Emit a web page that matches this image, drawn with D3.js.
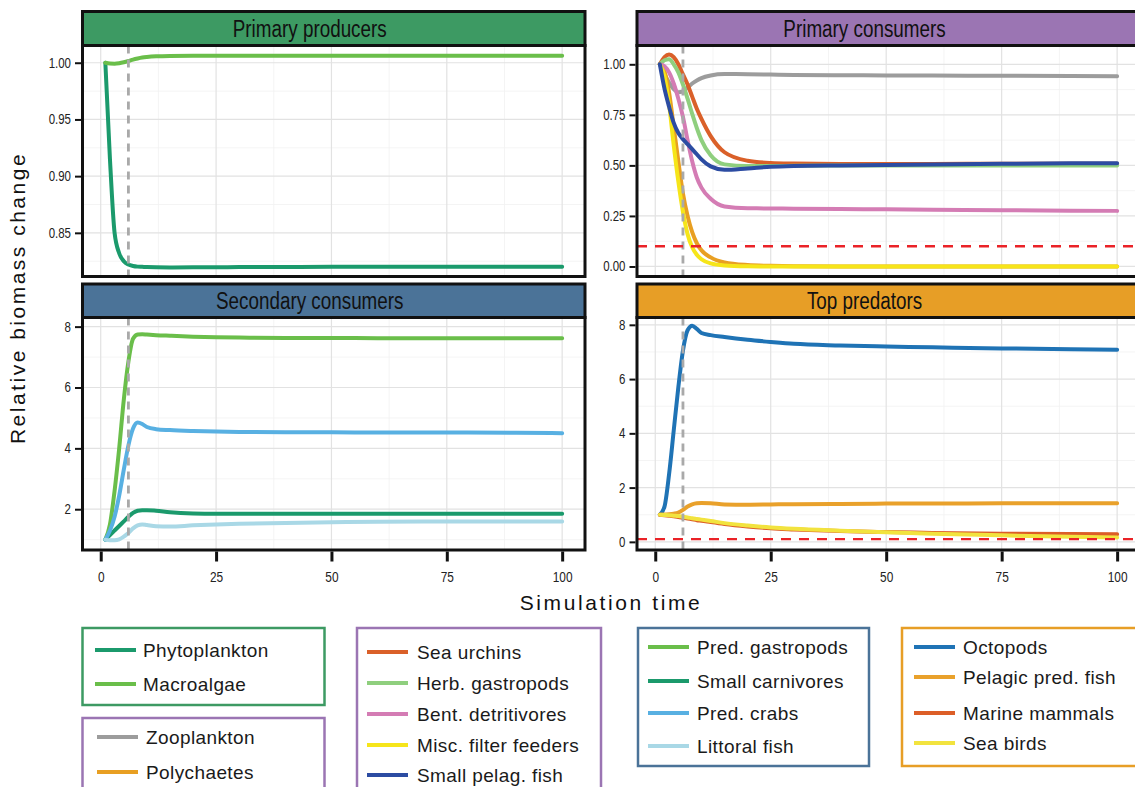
<!DOCTYPE html>
<html>
<head>
<meta charset="utf-8">
<script src="https://cdn.jsdelivr.net/npm/d3@7"></script>
<style>
  body { margin: 0; background: #fff; }
  svg { display: block; font-family: "Liberation Sans", Arial, sans-serif; }
</style>
</head>
<body>
<div id="container"></div>
<script>
// simulation time steps the curves were read at
var times = [1, 2, 3, 4, 5, 6, 7, 8, 9, 10, 12, 15, 20, 25, 30, 40, 50, 60, 75, 90, 100];

// primary producers
var phytoplankton = [1.0, 0.915, 0.85, 0.832, 0.825, 0.822, 0.8208, 0.8202, 0.82, 0.8198, 0.8196, 0.8195, 0.8196, 0.8197, 0.8198, 0.8199, 0.82, 0.82, 0.8201, 0.8202, 0.8202];
var macroalgae = [1.0, 0.9993, 0.9992, 0.9996, 1.0004, 1.0015, 1.0028, 1.0038, 1.0046, 1.0051, 1.0057, 1.006, 1.0061, 1.0061, 1.0061, 1.0061, 1.0061, 1.0061, 1.0061, 1.0061, 1.0061];

// primary consumers
var zooplankton = [1.0, 0.95, 0.91, 0.877, 0.862, 0.866, 0.885, 0.905, 0.92, 0.932, 0.945, 0.952, 0.951, 0.949, 0.947, 0.946, 0.945, 0.944, 0.943, 0.942, 0.941];
var polychaetes = [1.0, 0.965, 0.86, 0.69, 0.52, 0.36, 0.25, 0.17, 0.115, 0.08, 0.045, 0.02, 0.007, 0.003, 0.001, 0, 0, 0, 0, 0, 0];
var seaUrchins = [1.0, 1.035, 1.048, 1.035, 1.0, 0.95, 0.9, 0.84, 0.78, 0.73, 0.645, 0.565, 0.523, 0.512, 0.509, 0.507, 0.507, 0.507, 0.508, 0.508, 0.508];
var herbGastropods = [1.0, 1.02, 1.025, 1.0, 0.96, 0.9, 0.83, 0.755, 0.685, 0.625, 0.55, 0.505, 0.497, 0.497, 0.498, 0.499, 0.5, 0.5, 0.5, 0.5, 0.5];
var bentDetritivores = [1.0, 0.99, 0.96, 0.905, 0.83, 0.74, 0.625, 0.52, 0.44, 0.39, 0.335, 0.297, 0.288, 0.287, 0.286, 0.284, 0.283, 0.281, 0.278, 0.276, 0.275];
var miscFilterFeeders = [1.0, 0.94, 0.8, 0.6, 0.42, 0.27, 0.16, 0.095, 0.058, 0.036, 0.015, 0.005, 0.001, 0, 0, 0, 0, 0, 0, 0, 0];
var smallPelagFish = [1.0, 0.88, 0.79, 0.71, 0.66, 0.63, 0.605, 0.58, 0.555, 0.53, 0.495, 0.478, 0.485, 0.493, 0.497, 0.5, 0.502, 0.505, 0.508, 0.51, 0.511];

// secondary consumers
var predGastropods = [1.0, 1.5, 2.6, 4.0, 5.6, 6.85, 7.6, 7.74, 7.75, 7.74, 7.72, 7.7, 7.67, 7.65, 7.64, 7.63, 7.63, 7.62, 7.62, 7.62, 7.62];
var smallCarnivores = [1.0, 1.15, 1.3, 1.45, 1.6, 1.75, 1.88, 1.95, 1.97, 1.97, 1.95, 1.9, 1.86, 1.85, 1.85, 1.85, 1.85, 1.85, 1.85, 1.85, 1.85];
var predCrabs = [1.0, 1.3, 1.75, 2.45, 3.3, 4.1, 4.65, 4.85, 4.8, 4.7, 4.63, 4.6, 4.57, 4.55, 4.54, 4.53, 4.53, 4.52, 4.52, 4.51, 4.5];
var littoralFish = [1.0, 0.98, 0.98, 1.01, 1.1, 1.22, 1.37, 1.47, 1.5, 1.48, 1.44, 1.43, 1.47, 1.5, 1.52, 1.55, 1.57, 1.59, 1.6, 1.6, 1.6];

// top predators
var octopods = [1.0, 1.3, 2.5, 4.1, 5.7, 7.05, 7.8, 7.97, 7.85, 7.7, 7.62, 7.55, 7.45, 7.37, 7.3, 7.24, 7.2, 7.17, 7.13, 7.1, 7.08];
var pelagicPredFish = [1.0, 1.01, 1.02, 1.04, 1.08, 1.18, 1.3, 1.38, 1.42, 1.43, 1.42, 1.38, 1.37, 1.38, 1.39, 1.4, 1.41, 1.41, 1.42, 1.42, 1.42];
var marineMammals = [1.0, 0.98, 0.96, 0.94, 0.92, 0.89, 0.86, 0.83, 0.8, 0.78, 0.73, 0.66, 0.57, 0.5, 0.46, 0.4, 0.36, 0.33, 0.3, 0.29, 0.28];
var seaBirds = [1.0, 0.99, 0.98, 0.965, 0.95, 0.925, 0.9, 0.87, 0.845, 0.82, 0.77, 0.69, 0.6, 0.53, 0.48, 0.41, 0.35, 0.3, 0.24, 0.19, 0.16];

// groups, names and ticks
var groupTitles = ["Primary producers", "Primary consumers", "Secondary consumers", "Top predators"];
var producerNames = ["Phytoplankton", "Macroalgae"];
var primaryNames = ["Zooplankton", "Polychaetes", "Sea urchins", "Herb. gastropods", "Bent. detritivores", "Misc. filter feeders", "Small pelag. fish"];
var secondaryNames = ["Pred. gastropods", "Small carnivores", "Pred. crabs", "Littoral fish"];
var topNames = ["Octopods", "Pelagic pred. fish", "Marine mammals", "Sea birds"];
var xTicks = [0, 25, 50, 75, 100];
var producerTicks = [0.85, 0.90, 0.95, 1.00];
var primaryTicks = [0, 0.25, 0.5, 0.75, 1.0];
var secondaryTicks = [2, 4, 6, 8];
var topTicks = [0, 2, 4, 6, 8];
var disturbanceTime = 6;      // grey dashed line
var extinctionLevel = 0.1;    // red dashed line

var seriesValues = {
  "Phytoplankton": phytoplankton, "Macroalgae": macroalgae,
  "Zooplankton": zooplankton, "Polychaetes": polychaetes, "Sea urchins": seaUrchins,
  "Herb. gastropods": herbGastropods, "Bent. detritivores": bentDetritivores,
  "Misc. filter feeders": miscFilterFeeders, "Small pelag. fish": smallPelagFish,
  "Pred. gastropods": predGastropods, "Small carnivores": smallCarnivores,
  "Pred. crabs": predCrabs, "Littoral fish": littoralFish,
  "Octopods": octopods, "Pelagic pred. fish": pelagicPredFish,
  "Marine mammals": marineMammals, "Sea birds": seaBirds
};

var colors = {
  "Phytoplankton": "#1b9a6c", "Macroalgae": "#6abe4a",
  "Zooplankton": "#9c9c9c", "Polychaetes": "#e89f22", "Sea urchins": "#da6029",
  "Herb. gastropods": "#8fcf7e", "Bent. detritivores": "#d47cb4",
  "Misc. filter feeders": "#f6e51a", "Small pelag. fish": "#2c4ca2",
  "Pred. gastropods": "#6abe4a", "Small carnivores": "#1b9a6c",
  "Pred. crabs": "#58b0e2", "Littoral fish": "#a9d8e6",
  "Octopods": "#1f73b5", "Pelagic pred. fish": "#e9a12b",
  "Marine mammals": "#dc5e27", "Sea birds": "#f2e33e"
};
var stripColors = ["#3d9a63", "#9b75b3", "#4b7398", "#e79e26"];

var w = 1135, h = 787;
var svg = d3.select("div#container")
  .append("svg")
  .attr("width", w)
  .attr("height", h);

svg.append("rect").attr("width", w).attr("height", h).attr("fill", "#fff");

// panel layout
var cols = [[82.5, 585], [637, 1140]];
var rows = [{strip: 11.5, top: 45.5, bottom: 276.5}, {strip: 284, top: 317.5, bottom: 550}];
var narrow = 0.82;

var panels = [
  {title: groupTitles[0], names: producerNames, ticks: producerTicks, domain: [0.8115, 1.0152], fmt: d3.format(".2f"), col: 0, row: 0, red: false},
  {title: groupTitles[1], names: primaryNames, ticks: primaryTicks, domain: [-0.0496, 1.093], fmt: d3.format(".2f"), col: 1, row: 0, red: true},
  {title: groupTitles[2], names: secondaryNames, ticks: secondaryTicks, domain: [0.66, 8.3], fmt: d3.format("d"), col: 0, row: 1, red: false},
  {title: groupTitles[3], names: topNames, ticks: topTicks, domain: [-0.3, 8.27], fmt: d3.format("d"), col: 1, row: 1, red: true}
];

function minorOf(ticks) {
  var step = ticks[1] - ticks[0], out = [];
  for (var i = -1; i < ticks.length; i++) out.push(ticks[0] + step * (i + 0.5));
  return out;
}

panels.forEach(function(p, pi) {
  var x0 = cols[p.col][0], x1 = cols[p.col][1];
  var r = rows[p.row];
  var x = d3.scaleLinear().domain([-3.95, 104.95]).range([x0, x1]);
  var y = d3.scaleLinear().domain(p.domain).range([r.bottom, r.top]);
  var g = svg.append("g");

  // grid
  var yMinor = minorOf(p.ticks).filter(function(v) { return v > p.domain[0] && v < p.domain[1]; });
  var xMinor = minorOf(xTicks).filter(function(v) { return v > -3.95 && v < 104.95; });
  g.selectAll(".ym").data(yMinor).enter().append("line")
    .attr("x1", x0).attr("x2", x1).attr("y1", y).attr("y2", y)
    .attr("stroke", "#f1f1f1").attr("stroke-width", 0.8);
  g.selectAll(".xm").data(xMinor).enter().append("line")
    .attr("x1", x).attr("x2", x).attr("y1", r.top).attr("y2", r.bottom)
    .attr("stroke", "#f1f1f1").attr("stroke-width", 0.8);
  g.selectAll(".yM").data(p.ticks).enter().append("line")
    .attr("x1", x0).attr("x2", x1).attr("y1", y).attr("y2", y)
    .attr("stroke", "#e2e2e2").attr("stroke-width", 1.2);
  g.selectAll(".xM").data(xTicks).enter().append("line")
    .attr("x1", x).attr("x2", x).attr("y1", r.top).attr("y2", r.bottom)
    .attr("stroke", "#e2e2e2").attr("stroke-width", 1.2);

  // series
  var line = d3.line()
    .x(function(d, i) { return x(times[i]); })
    .y(function(d) { return y(d); })
    .curve(d3.curveMonotoneX);
  g.selectAll(".series").data(p.names).enter().append("path")
    .attr("d", function(n) { return line(seriesValues[n]); })
    .attr("fill", "none")
    .attr("stroke", function(n) { return colors[n]; })
    .attr("stroke-width", 4)
    .attr("stroke-linejoin", "round")
    .attr("stroke-linecap", "round");

  // disturbance line
  g.append("line")
    .attr("x1", x(disturbanceTime)).attr("x2", x(disturbanceTime))
    .attr("y1", r.top).attr("y2", r.bottom)
    .attr("stroke", "#a9a9a9").attr("stroke-width", 2.8)
    .attr("stroke-dasharray", "8,6");

  if (p.red) {
    g.append("line")
      .attr("x1", x0).attr("x2", x1)
      .attr("y1", y(extinctionLevel)).attr("y2", y(extinctionLevel))
      .attr("stroke", "#ea2227").attr("stroke-width", 2.4)
      .attr("stroke-dasharray", "10,8");
  }

  // border + strip
  g.append("rect")
    .attr("x", x0).attr("y", r.top).attr("width", x1 - x0).attr("height", r.bottom - r.top)
    .attr("fill", "none").attr("stroke", "#111").attr("stroke-width", 3);
  g.append("rect")
    .attr("x", x0).attr("y", r.strip).attr("width", x1 - x0).attr("height", r.top - r.strip)
    .attr("fill", stripColors[pi]).attr("stroke", "#111").attr("stroke-width", 3);
  g.append("text")
    .attr("transform", "translate(" + ((x0 + x1) / 2 - 24) + "," + ((r.strip + r.top) / 2) + ") scale(" + narrow + ",1)")
    .attr("text-anchor", "middle").attr("dy", "0.36em")
    .attr("font-size", 23).attr("fill", "#111")
    .text(p.title);

  // y axis
  var ya = g.append("g")
    .attr("transform", "translate(" + (x0 - 1.5) + ",0)")
    .call(d3.axisLeft(y).tickValues(p.ticks).tickFormat(p.fmt).tickSize(6).tickPadding(4));
  ya.select(".domain").remove();
  ya.selectAll(".tick line").attr("stroke", "#111").attr("stroke-width", 2);
  ya.selectAll(".tick text")
    .attr("font-family", "Liberation Sans, Arial, sans-serif")
    .attr("font-size", 14).attr("fill", "#222")
    .attr("x", -10 / narrow)
    .attr("transform", "scale(" + narrow + ",1)");

  // x axis on the bottom row only
  if (p.row === 1) {
    var xa = g.append("g")
      .attr("transform", "translate(0," + (r.bottom + 1.5) + ")")
      .call(d3.axisBottom(x).tickValues(xTicks).tickSize(10).tickPadding(10));
    xa.select(".domain").remove();
    xa.selectAll(".tick line").attr("stroke", "#111").attr("stroke-width", 3);
    xa.selectAll(".tick text")
      .attr("font-family", "Liberation Sans, Arial, sans-serif")
      .attr("font-size", 14.5).attr("fill", "#222")
      .attr("transform", "scale(" + narrow + ",1)")
      .attr("x", 0);
  }
});

// axis titles
svg.append("text")
  .attr("x", 611).attr("y", 610)
  .attr("text-anchor", "middle")
  .attr("font-size", 21).attr("letter-spacing", 2.6).attr("fill", "#111")
  .text("Simulation time");
svg.append("text")
  .attr("transform", "translate(25,298) rotate(-90)")
  .attr("text-anchor", "middle")
  .attr("font-size", 21).attr("letter-spacing", 2.5).attr("fill", "#111")
  .text("Relative biomass change");

// legends
var legendBoxes = [
  {x: 82.5, y: 628, w: 242, h: 77, stroke: stripColors[0], names: producerNames, ys: [650, 684], sx: 95, tx: 143},
  {x: 82.5, y: 718, w: 242, h: 100, stroke: stripColors[1], names: primaryNames.slice(0, 2), ys: [737, 772], sx: 97, tx: 146},
  {x: 357, y: 628, w: 244, h: 190, stroke: stripColors[1], names: primaryNames.slice(2), ys: [652, 683, 714, 745, 775], sx: 367, tx: 417},
  {x: 638, y: 628, w: 231, h: 138, stroke: stripColors[2], names: secondaryNames, ys: [647, 681, 713, 746], sx: 648, tx: 697},
  {x: 902, y: 628, w: 260, h: 138, stroke: stripColors[3], names: topNames, ys: [647, 677, 713, 743], sx: 914, tx: 963}
];

legendBoxes.forEach(function(b) {
  var lg = svg.append("g");
  lg.append("rect")
    .attr("x", b.x).attr("y", b.y).attr("width", b.w).attr("height", b.h)
    .attr("fill", "#fff").attr("stroke", b.stroke).attr("stroke-width", 2.5);
  b.names.forEach(function(n, i) {
    lg.append("line")
      .attr("x1", b.sx).attr("x2", b.sx + 41)
      .attr("y1", b.ys[i]).attr("y2", b.ys[i])
      .attr("stroke", colors[n]).attr("stroke-width", 4);
    lg.append("text")
      .attr("x", b.tx).attr("y", b.ys[i]).attr("dy", "0.36em")
      .attr("font-size", 19).attr("letter-spacing", 0.4).attr("fill", "#1a1a1a")
      .text(n);
  });
});
</script>
</body>
</html>
